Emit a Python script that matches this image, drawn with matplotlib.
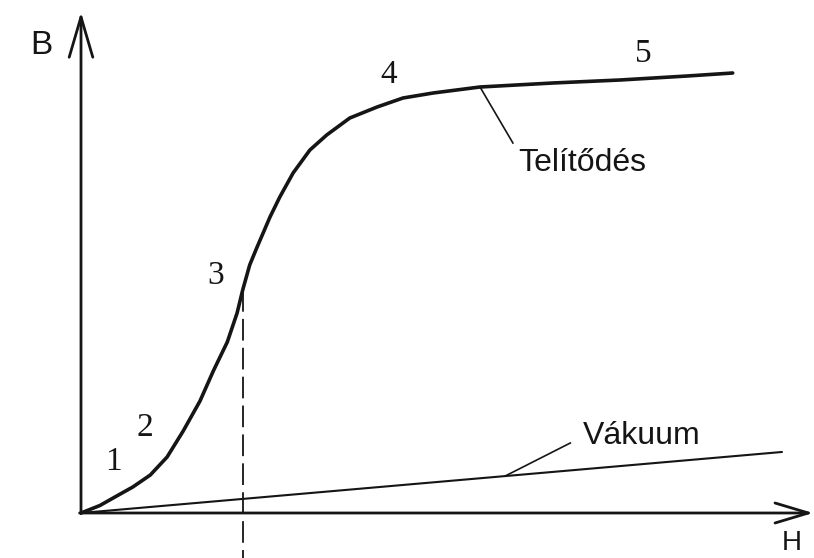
import matplotlib
matplotlib.use("Agg")
import matplotlib.pyplot as plt
import numpy as np

# magnetization curve B(H) (arbitrary units)
H_curve = [0.0, 0.27, 0.51, 0.74, 0.99, 1.23, 1.46, 1.70, 1.89, 2.09, 2.23,
           2.31, 2.41, 2.51, 2.70, 2.84, 3.03, 3.27, 3.51, 3.84, 4.23, 4.60,
           5.03, 5.70, 6.74, 7.70, 8.66, 9.31]
B_curve = [0.0, 0.15, 0.34, 0.52, 0.76, 1.12, 1.64, 2.24, 2.84, 3.42, 4.00,
           4.46, 4.96, 5.30, 5.92, 6.32, 6.80, 7.26, 7.56, 7.90, 8.12, 8.30,
           8.40, 8.52, 8.60, 8.66, 8.74, 8.80]

# vacuum line (straight)
H_vac = [0.0, 10.01]
B_vac = [0.0, 1.22]

# numbered points on the curve
point_labels = ["1", "2", "3", "4", "5"]
point_H = [0.46, 0.91, 1.93, 4.40, 8.03]
point_B = [1.02, 1.70, 4.74, 8.76, 9.18]

H_dashed = 2.31  # dashed vertical line under point 3

ink = "#151515"

fig = plt.figure(figsize=(8.14, 5.58), dpi=100)
ax = fig.add_axes([0, 0, 1, 1])
ax.set_xlim(-81 / 70, 733 / 70)
ax.set_ylim(-45 / 50, 513 / 50)
ax.axis("off")

# axes with open arrow heads
ax.annotate("", xy=(0, 10.02), xytext=(0, -0.01),
            arrowprops=dict(arrowstyle="->,head_length=2.9,head_width=0.85",
                            color=ink, lw=2.0, shrinkA=0, shrinkB=0))
ax.annotate("", xy=(10.46, 0), xytext=(-0.02, 0),
            arrowprops=dict(arrowstyle="->,head_length=2.4,head_width=0.72",
                            color=ink, lw=2.0, shrinkA=0, shrinkB=0))
ax.text(-0.56, 9.36, "B", fontsize=24, family="Liberation Sans",
        ha="center", va="center", color=ink)
ax.text(10.16, -0.85, "H", fontsize=20, family="Liberation Sans",
        ha="center", va="bottom", color=ink)

# curves
ax.plot(H_curve, B_curve, color=ink, lw=2.6, solid_capstyle="round",
        solid_joinstyle="round")
ax.plot(H_vac, B_vac, color=ink, lw=1.5)

# dashed line down from point 3
B3 = np.interp(H_dashed, H_curve, B_curve)
ax.plot([H_dashed, H_dashed], [B3, -0.95], color=ink, lw=1.3,
        dashes=(12, 4))

for lab, h, b in zip(point_labels, point_H, point_B):
    ax.text(h, b, lab, fontsize=24, family="Liberation Serif",
            ha="center", va="center", color=ink)

# leader labels
ax.plot([5.70, 6.17], [8.52, 7.40], color=ink, lw=1.2)
ax.text(6.24, 7.0, "Telítődés", fontsize=23, family="Liberation Sans",
        ha="left", va="center", color=ink)
ax.plot([6.06, 6.99], [0.74, 1.40], color=ink, lw=1.2)
ax.text(7.17, 1.54, "Vákuum", fontsize=23, family="Liberation Sans",
        ha="left", va="center", color=ink)

fig.savefig("out.png", dpi=100, facecolor="white")
